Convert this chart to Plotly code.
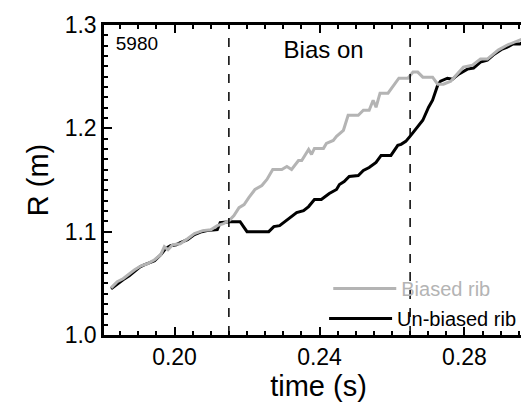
import plotly.graph_objects as go

# ---- data ----
t_unbiased = [0.1825, 0.1845, 0.1858, 0.1875, 0.1890, 0.1905, 0.1918, 0.1935, 0.1945, 0.1962,
              0.1975, 0.1989, 0.2005, 0.2016, 0.2036, 0.2055, 0.2075, 0.2090, 0.2118, 0.2126,
              0.2151, 0.2181, 0.2200, 0.2260, 0.2274, 0.2290, 0.2301, 0.2318, 0.2337, 0.2356,
              0.2370, 0.2386, 0.2405, 0.2427, 0.2447, 0.2455, 0.2468, 0.2482, 0.2507, 0.2521,
              0.2537, 0.2556, 0.2570, 0.2597, 0.2616, 0.2625, 0.2638, 0.2652, 0.2666, 0.2685,
              0.2701, 0.2712, 0.2726, 0.2734, 0.2753, 0.2767, 0.2784, 0.2808, 0.2825, 0.2844,
              0.2863, 0.2879, 0.2904, 0.2918, 0.2934, 0.2953, 0.2973, 0.2986]
R_unbiased = [1.0446, 1.0505, 1.0534, 1.0573, 1.0621, 1.0660, 1.0680, 1.0709, 1.0718, 1.0777,
              1.0835, 1.0864, 1.0874, 1.0893, 1.0922, 1.0971, 1.1000, 1.1010, 1.1019, 1.1087,
              1.1097, 1.1097, 1.1000, 1.1000, 1.1049, 1.1058, 1.1087, 1.1136, 1.1184, 1.1204,
              1.1243, 1.1311, 1.1311, 1.1369, 1.1408, 1.1456, 1.1485, 1.1534, 1.1544, 1.1592,
              1.1621, 1.1670, 1.1738, 1.1738, 1.1835, 1.1845, 1.1874, 1.1932, 1.1990, 1.2078,
              1.2204, 1.2272, 1.2417, 1.2456, 1.2485, 1.2476, 1.2524, 1.2573, 1.2583, 1.2641,
              1.2660, 1.2709, 1.2767, 1.2786, 1.2816, 1.2816, 1.2864, 1.2913]

t_biased = [0.1825, 0.1842, 0.1858, 0.1875, 0.1890, 0.1908, 0.1925, 0.1945, 0.1962, 0.1972,
            0.1982, 0.1995, 0.2016, 0.2036, 0.2055, 0.2078, 0.2100, 0.2118, 0.2135, 0.2151,
            0.2164, 0.2178, 0.2192, 0.2205, 0.2222, 0.2241, 0.2255, 0.2271, 0.2296, 0.2310,
            0.2323, 0.2342, 0.2351, 0.2370, 0.2378, 0.2386, 0.2411, 0.2419, 0.2438, 0.2447,
            0.2466, 0.2479, 0.2507, 0.2521, 0.2537, 0.2548, 0.2556, 0.2567, 0.2589, 0.2619,
            0.2644, 0.2658, 0.2671, 0.2685, 0.2712, 0.2726, 0.2742, 0.2762, 0.2775, 0.2797,
            0.2822, 0.2844, 0.2863, 0.2877, 0.2893, 0.2918, 0.2940, 0.2959, 0.2975, 0.2989]
R_biased = [1.0456, 1.0515, 1.0544, 1.0592, 1.0631, 1.0670, 1.0689, 1.0728, 1.0777, 1.0854,
            1.0825, 1.0874, 1.0883, 1.0932, 1.0981, 1.1010, 1.1019, 1.1058, 1.1078, 1.1107,
            1.1155, 1.1233, 1.1262, 1.1330, 1.1408, 1.1447, 1.1505, 1.1602, 1.1602, 1.1631,
            1.1602, 1.1689, 1.1689, 1.1796, 1.1748, 1.1806, 1.1806, 1.1854, 1.1883, 1.1922,
            1.1981, 1.2126, 1.2126, 1.2175, 1.2175, 1.2272, 1.2204, 1.2340, 1.2340, 1.2485,
            1.2485, 1.2544, 1.2544, 1.2495, 1.2495, 1.2427, 1.2427, 1.2456, 1.2505, 1.2592,
            1.2612, 1.2670, 1.2670, 1.2709, 1.2757, 1.2806, 1.2835, 1.2864, 1.2893, 1.2932]

bias_times = [0.215, 0.265]          # dashed markers: bias on / off
R_span = [1.0, 1.3]
shot_label = "5980"
phase_label = "Bias on"

FONT = "Liberation Sans, Arial, sans-serif"
GRAY = "#b4b4b4"

fig = go.Figure()
fig.add_trace(go.Scatter(x=t_unbiased, y=R_unbiased, mode="lines",
                         line=dict(color="black", width=3),
                         name="Un-biased rib", legend="legend2"))
fig.add_trace(go.Scatter(x=t_biased, y=R_biased, mode="lines",
                         line=dict(color=GRAY, width=3),
                         name="Biased rib", legend="legend"))
for bt in bias_times:
    fig.add_trace(go.Scatter(x=[bt, bt], y=R_span, mode="lines", showlegend=False,
                             line=dict(color="black", width=1.5, dash="dash"),
                             hoverinfo="skip"))

# in-plot labels as text traces
fig.add_trace(go.Scatter(x=[0.1838], y=[1.2806], mode="text", text=[shot_label],
                         textposition="middle right", showlegend=False, hoverinfo="skip",
                         textfont=dict(family=FONT, size=19, color="black")))
fig.add_trace(go.Scatter(x=[0.2301], y=[1.2738], mode="text", text=[phase_label],
                         textposition="middle right", showlegend=False, hoverinfo="skip",
                         textfont=dict(family=FONT, size=24, color="black")))

fig.update_xaxes(range=[0.18055, 0.2989], dtick=0.04, tick0=0.20, tickformat=".2f",
                 showline=True, linecolor="black", linewidth=2.5, mirror="allticks",
                 ticks="inside", ticklen=8, tickwidth=2, tickcolor="black", showgrid=False,
                 tickfont=dict(family=FONT, size=23, color="black"),
                 minor=dict(dtick=0.005, ticks="inside", ticklen=4, tickcolor="black"),
                 title=dict(text="time (s)", font=dict(family=FONT, size=29, color="black"),
                            standoff=4))
fig.update_yaxes(range=[1.0, 1.3], dtick=0.1, tickformat=".1f",
                 showline=True, linecolor="black", linewidth=2.5, mirror="allticks",
                 ticks="inside", ticklen=8, tickwidth=2, tickcolor="black", showgrid=False,
                 tickfont=dict(family=FONT, size=23, color="black"),
                 minor=dict(dtick=0.01, ticks="inside", ticklen=4, tickcolor="black"),
                 title=dict(text="R (m)", font=dict(family=FONT, size=29, color="black"),
                            standoff=8))

fig.update_layout(
    width=529, height=404,
    margin=dict(l=96, r=1, t=17, b=77),
    paper_bgcolor="white", plot_bgcolor="white",
    legend=dict(x=(490 - 96) / 432, y=(327 - 261) / 310, xanchor="right", yanchor="top",
                bgcolor="rgba(0,0,0,0)", itemwidth=63,
                font=dict(family=FONT, size=20, color=GRAY)),
    legend2=dict(x=(516 - 96) / 432, y=(327 - 291) / 310, xanchor="right", yanchor="top",
                 bgcolor="rgba(0,0,0,0)", itemwidth=63,
                 font=dict(family=FONT, size=20, color="black")),
)

fig.write_html("out.html")
